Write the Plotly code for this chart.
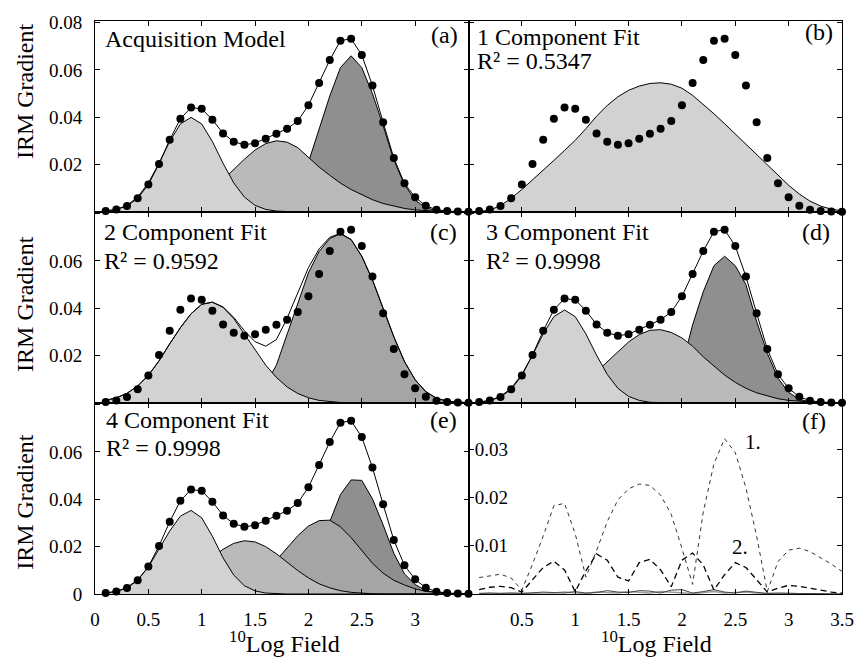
import plotly.graph_objects as go
from plotly.subplots import make_subplots

# ---------------- data ----------------
X = [0.1, 0.2, 0.3, 0.4, 0.5, 0.6, 0.7, 0.8, 0.9, 1.0, 1.1, 1.2, 1.3, 1.4, 1.5, 1.6, 1.7, 1.8,
     1.9, 2.0, 2.1, 2.2, 2.3, 2.4, 2.5, 2.6, 2.7, 2.8, 2.9, 3.0, 3.1, 3.2, 3.3, 3.4, 3.5]

DATA = [0.0004, 0.0011, 0.0025, 0.0058, 0.0116, 0.0203, 0.0305, 0.0394, 0.0441, 0.0436, 0.0390, 0.0332,
        0.0297, 0.0284, 0.0291, 0.0310, 0.0331, 0.0352, 0.0384, 0.0451, 0.0545, 0.0642, 0.0724, 0.0732,
        0.0663, 0.0534, 0.0379, 0.0228, 0.0121, 0.0062, 0.0026, 0.0010, 0.0004, 0.0002, 0.0001]

# (a) acquisition model components
A_C1 = [0.0004, 0.0011, 0.0028, 0.0063, 0.0123, 0.0206, 0.0298, 0.0372, 0.0400, 0.0372, 0.0298, 0.0206,
        0.0123, 0.0063, 0.0028, 0.0011, 0.0004, 0.0001, 0, 0, 0, 0, 0, 0, 0, 0, 0, 0, 0, 0, 0, 0, 0, 0, 0]
A_C2 = [0, 0, 0.0001, 0.0002, 0.0003, 0.0006, 0.0013, 0.0024, 0.0041, 0.0065, 0.0097, 0.0136, 0.0180,
        0.0223, 0.0262, 0.0289, 0.0301, 0.0295, 0.0272, 0.0230, 0.0190, 0.0155, 0.0122, 0.0095, 0.0072,
        0.0052, 0.0036, 0.0024, 0.0015, 0.0009, 0.0005, 0.0003, 0.0001, 0, 0]
A_C3 = [0, 0, 0, 0, 0, 0, 0, 0, 0, 0, 0, 0, 0, 0, 0.0003, 0.0009, 0.0025, 0.0055, 0.0110, 0.0210, 0.0350,
        0.0490, 0.0610, 0.0660, 0.0610, 0.0500, 0.0365, 0.0220, 0.0115, 0.0050, 0.0018, 0.0006, 0.0002, 0, 0]

# (b) one component fit
B_C1 = [0.0002, 0.0008, 0.0027, 0.0058, 0.0095, 0.0135, 0.0175, 0.0218, 0.0260, 0.0303, 0.0352, 0.0405,
        0.0450, 0.0487, 0.0514, 0.0532, 0.0543, 0.0546, 0.0540, 0.0523, 0.0493, 0.0456, 0.0415, 0.0373,
        0.0330, 0.0288, 0.0245, 0.0200, 0.0155, 0.0113, 0.0076, 0.0046, 0.0025, 0.0012, 0.0005]

# (c) two component fit
C_C1 = [0.0011, 0.0022, 0.0041, 0.0072, 0.0117, 0.0178, 0.0250, 0.0318, 0.0377, 0.0417, 0.0426, 0.0404,
        0.0357, 0.0292, 0.0224, 0.0160, 0.0108, 0.0068, 0.0040, 0.0022, 0.0011, 0.0005, 0.0002, 0.0001,
        0, 0, 0, 0, 0, 0, 0, 0, 0, 0, 0]
C_C2 = [0, 0, 0, 0, 0, 0, 0, 0, 0, 0, 0, 0.0002, 0.0005, 0.0013, 0.0035, 0.0080, 0.0160, 0.0290, 0.0425,
        0.0550, 0.0640, 0.0695, 0.0715, 0.0690, 0.0620, 0.0520, 0.0400, 0.0280, 0.0175, 0.0098, 0.0048,
        0.0020, 0.0008, 0.0003, 0.0001]

# (d) three component fit
D_C1 = [0.0003, 0.0011, 0.0028, 0.0062, 0.0121, 0.0202, 0.0292, 0.0365, 0.0393, 0.0365, 0.0292, 0.0202,
        0.0121, 0.0062, 0.0028, 0.0011, 0.0003, 0.0001, 0, 0, 0, 0, 0, 0, 0, 0, 0, 0, 0, 0, 0, 0, 0, 0, 0]
D_C2 = [0, 0, 0, 0.0002, 0.0004, 0.0008, 0.0015, 0.0025, 0.0042, 0.0065, 0.0095, 0.0132, 0.0175, 0.0218,
        0.0258, 0.0289, 0.0307, 0.0310, 0.0298, 0.0275, 0.0240, 0.0195, 0.0155, 0.0118, 0.0087, 0.0062,
        0.0043, 0.0029, 0.0018, 0.0011, 0.0007, 0.0004, 0.0002, 0.0001, 0]
D_C3 = [0, 0, 0, 0, 0, 0, 0, 0, 0, 0, 0, 0, 0, 0, 0.0002, 0.0005, 0.0015, 0.0035, 0.0075, 0.0155, 0.0330,
        0.0470, 0.0580, 0.0620, 0.0580, 0.0500, 0.0345, 0.0210, 0.0105, 0.0045, 0.0015, 0.0005, 0.0002, 0, 0]

# (e) four component fit
E_C1 = [0.0004, 0.0011, 0.0028, 0.0060, 0.0114, 0.0187, 0.0266, 0.0329, 0.0353, 0.0322, 0.0244, 0.0153,
        0.0080, 0.0035, 0.0013, 0.0004, 0.0001, 0, 0, 0, 0, 0, 0, 0, 0, 0, 0, 0, 0, 0, 0, 0, 0, 0, 0]
E_C2 = [0, 0.0001, 0.0003, 0.0005, 0.0011, 0.0020, 0.0035, 0.0057, 0.0086, 0.0120, 0.0156, 0.0189, 0.0214,
        0.0225, 0.0220, 0.0200, 0.0170, 0.0134, 0.0099, 0.0068, 0.0043, 0.0026, 0.0014, 0.0007, 0.0003,
        0.0001, 0, 0, 0, 0, 0, 0, 0, 0, 0]
E_C3 = [0, 0, 0, 0, 0, 0, 0, 0, 0, 0, 0.0005, 0.0010, 0.0019, 0.0036, 0.0061, 0.0097, 0.0143, 0.0195,
        0.0246, 0.0287, 0.0310, 0.0312, 0.0284, 0.0238, 0.0184, 0.0130, 0.0088, 0.0058, 0.0038, 0.0022,
        0.0011, 0.0005, 0.0002, 0.0001, 0]
E_C4 = [0, 0, 0, 0, 0, 0, 0, 0, 0, 0, 0, 0, 0, 0, 0, 0.0003, 0.0008, 0.0018, 0.0040, 0.0095, 0.0190,
        0.0305, 0.0420, 0.0482, 0.0480, 0.0402, 0.0292, 0.0172, 0.0085, 0.0040, 0.0015, 0.0005, 0.0002, 0, 0]

# (f) residuals
F_1 = [0.0034, 0.0038, 0.0041, 0.0033, 0.0008, 0.0062, 0.0120, 0.0183, 0.0188, 0.0125, 0.0035, 0.0090,
       0.0150, 0.0195, 0.0218, 0.0228, 0.0225, 0.0205, 0.0165, 0.0095, 0.0020, 0.0170, 0.0270, 0.0322,
       0.0293, 0.0220, 0.0120, 0.0005, 0.0067, 0.0091, 0.0095, 0.0088, 0.0075, 0.0062, 0.0047]
F_2 = [0.0009, 0.0014, 0.0016, 0.0013, 0.0004, 0.0030, 0.0055, 0.0068, 0.0050, 0.0005, 0.0048, 0.0083,
       0.0070, 0.0035, 0.0027, 0.0065, 0.0072, 0.0050, 0.0015, 0.0070, 0.0085, 0.0060, 0.0008, 0.0040,
       0.0065, 0.0055, 0.0030, 0.0004, 0.0012, 0.0018, 0.0016, 0.0012, 0.0008, 0.0004, 0.0002]
F_3 = [0.0001, 0.0002, 0.0001, 0.0002, 0.0001, 0.0003, 0.0004, 0.0003, 0.0002, 0.0005, 0.0002, 0.0003,
       0.0007, 0.0004, 0.0003, 0.0007, 0.0006, 0.0002, 0.0008, 0.0009, 0.0002, 0.0005, 0.0009, 0.0004,
       0.0002, 0.0006, 0.0004, 0.0001, 0.0002, 0.0001, 0.0001, 0.0001, 0.0001, 0, 0]
F_4 = [0.0001, 0.0001, 0.0002, 0.0001, 0.0002, 0.0002, 0.0001, 0.0002, 0.0004, 0.0002, 0.0001, 0.0004,
       0.0003, 0.0002, 0.0005, 0.0003, 0.0002, 0.0005, 0.0004, 0.0003, 0.0001, 0.0003, 0.0005, 0.0002,
       0.0003, 0.0004, 0.0002, 0.0001, 0.0001, 0.0001, 0, 0, 0, 0, 0]

X_TICKS = [0, 0.5, 1, 1.5, 2, 2.5, 3, 3.5]
X_TEXT_E = ['0', '0.5', '1', '1.5', '2', '2.5', '3', '']
X_TEXT_F = ['', '0.5', '1', '1.5', '2', '2.5', '3', '3.5']
Y_TICKS = [0, 0.02, 0.04, 0.06, 0.08]
Y_TEXT_A = ['', '0.02', '0.04', '0.06', '0.08']
Y_TEXT_C = ['', '0.02', '0.04', '0.06', '']
Y_TEXT_E = ['0', '0.02', '0.04', '0.06', '']
Y_TICKS_F = [0, 0.01, 0.02, 0.03]
Y_TEXT_F = ['', '0.01', '0.02', '0.03']

LIGHT = '#d2d2d2'
MED = '#bababa'
MEDDARK = '#a5a5a5'
DARK = '#8f8f8f'

FONT = 'Liberation Serif, Times New Roman, serif'

fig = make_subplots(rows=3, cols=2, horizontal_spacing=0, vertical_spacing=0)


def area(y, color, row, col):
    fig.add_trace(go.Scatter(x=X, y=y, mode='lines', line=dict(color='black', width=1),
                             fill='tozeroy', fillcolor=color, showlegend=False, hoverinfo='skip'),
                  row=row, col=col)


def points(row, col, with_line):
    fig.add_trace(go.Scatter(x=X, y=DATA, mode='lines+markers' if with_line else 'markers',
                             line=dict(color='black', width=1),
                             marker=dict(color='black', size=8), cliponaxis=False,
                             showlegend=False, hoverinfo='skip'), row=row, col=col)


# (a) - highest coercivity component drawn first
area(A_C3, DARK, 1, 1)
area(A_C2, MED, 1, 1)
area(A_C1, LIGHT, 1, 1)
points(1, 1, True)

# (b)
area(B_C1, LIGHT, 1, 2)
points(1, 2, False)

# (c)
area(C_C2, MEDDARK, 2, 1)
area(C_C1, LIGHT, 2, 1)
C_SUM = [p + q for p, q in zip(C_C1, C_C2)]
fig.add_trace(go.Scatter(x=X, y=C_SUM, mode='lines', line=dict(color='black', width=1),
                         showlegend=False, hoverinfo='skip'), row=2, col=1)
points(2, 1, False)

# (d)
area(D_C3, DARK, 2, 2)
area(D_C2, MED, 2, 2)
area(D_C1, LIGHT, 2, 2)
points(2, 2, True)

# (e)
area(E_C4, DARK, 3, 1)
area(E_C3, MEDDARK, 3, 1)
area(E_C2, MED, 3, 1)
area(E_C1, LIGHT, 3, 1)
points(3, 1, True)

# (f)
fig.add_trace(go.Scatter(x=X, y=F_4, mode='lines', line=dict(color='#9a9a9a', width=1.5),
                         showlegend=False, hoverinfo='skip'), row=3, col=2)
fig.add_trace(go.Scatter(x=X, y=F_3, mode='lines', line=dict(color='#444444', width=1),
                         showlegend=False, hoverinfo='skip'), row=3, col=2)
fig.add_trace(go.Scatter(x=X, y=F_1, mode='lines', line=dict(color='#333333', width=1, dash='4px,4px'),
                         showlegend=False, hoverinfo='skip'), row=3, col=2)
fig.add_trace(go.Scatter(x=X, y=F_2, mode='lines', line=dict(color='black', width=1.3, dash='6px,4px'),
                         showlegend=False, hoverinfo='skip'), row=3, col=2)

axis_common = dict(showline=True, linecolor='black', linewidth=1, mirror='ticks', ticks='inside',
                   ticklen=5, tickcolor='black', tickwidth=1, showgrid=False, zeroline=False,
                   tickfont=dict(family=FONT, size=19, color='black'))

for r in (1, 2, 3):
    for c in (1, 2):
        fig.update_xaxes(range=[0, 3.5], tickmode='array', tickvals=X_TICKS, showticklabels=False,
                         **axis_common, row=r, col=c)

fig.update_xaxes(showticklabels=True, ticktext=X_TEXT_E, ticklabelstandoff=8, row=3, col=1)
fig.update_xaxes(showticklabels=True, ticktext=X_TEXT_F, ticklabelstandoff=8, row=3, col=2)

YR = [0, 0.0807]
fig.update_yaxes(range=YR, tickmode='array', tickvals=Y_TICKS, ticktext=Y_TEXT_A, ticklabelstandoff=8,
                 **axis_common, row=1, col=1)
fig.update_yaxes(range=YR, tickmode='array', tickvals=Y_TICKS, ticktext=Y_TEXT_C, ticklabelstandoff=8,
                 **axis_common, row=2, col=1)
fig.update_yaxes(range=YR, tickmode='array', tickvals=Y_TICKS, ticktext=Y_TEXT_E, ticklabelstandoff=8,
                 **axis_common, row=3, col=1)
fig.update_yaxes(range=YR, tickmode='array', tickvals=Y_TICKS, showticklabels=False,
                 **axis_common, row=1, col=2)
fig.update_yaxes(range=YR, tickmode='array', tickvals=Y_TICKS, showticklabels=False,
                 **axis_common, row=2, col=2)
fig.update_yaxes(range=[0, 0.0396], tickmode='array', tickvals=Y_TICKS_F, ticktext=Y_TEXT_F,
                 ticklabelposition='inside', ticklabelstandoff=2, **axis_common, row=3, col=2)

W, H = 866, 659
L, R, T, B = 95, 15, 15, 65
PW, PH = W - L - R, H - T - B


def px(xp):
    return (xp - L) / PW


def py(yp):
    return (H - B - yp) / PH


ann = []


def text(s, x, y, xanchor='left', size=24, angle=0):
    ann.append(dict(text=s, x=px(x), y=py(y), xref='paper', yref='paper', xanchor=xanchor,
                    yanchor='middle', showarrow=False, textangle=angle,
                    font=dict(family=FONT, size=size, color='black')))


text('Acquisition Model', 103, 33)
text('(a)', 464, 29, 'right')
text('1 Component Fit', 480, 31)
text('R² = 0.5347', 480, 55)
text('(b)', 844, 26, 'right')
text('2 Component Fit', 102, 228)
text('R² = 0.9592', 102, 258)
text('(c)', 463, 228, 'right')
text('3 Component Fit', 489, 228)
text('R² = 0.9998', 489, 258)
text('(d)', 841, 228, 'right')
text('4 Component Fit', 104, 418)
text('R² = 0.9998', 104, 446)
text('(e)', 463, 418, 'right')
text('(f)', 837, 419, 'right')
text('1.', 751, 440, size=21)
text('2.', 738, 547, size=21)

for yc in (86, 301, 501):
    text('IRM Gradient', 24, yc, 'center', size=24, angle=-90)
for xc in (287, 663):
    text('<sup>10</sup>Log Field', xc, 643, 'center', size=24)

fig.update_layout(width=W, height=H, margin=dict(l=L, r=R, t=T, b=B, pad=0),
                  plot_bgcolor='white', paper_bgcolor='white',
                  font=dict(family=FONT, color='black'), annotations=ann, showlegend=False)

fig.write_html('out.html')
